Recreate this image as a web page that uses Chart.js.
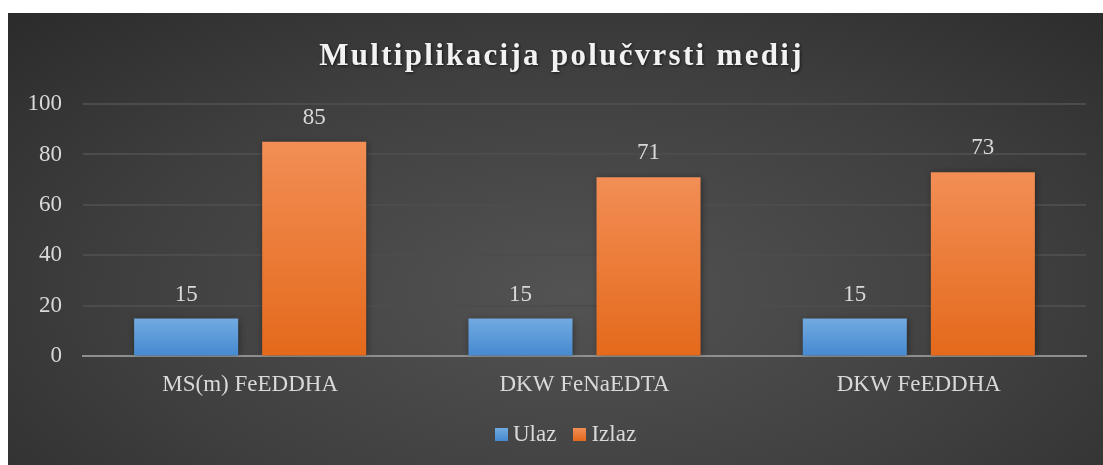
<!DOCTYPE html>
<html lang="hr">
<head>
  <meta charset="UTF-8" />
  <title>Multiplikacija polučvrsti medij</title>
  <script src="https://cdn.jsdelivr.net/npm/chart.js"></script>
  <style>
    * {
      box-sizing: border-box;
      margin: 0;
      padding: 0;
    }

    body {
      background-color: #ffffff;
      width: 1103px;
      height: 465px;
      overflow: hidden;
    }

    .okvir {
      position: absolute;
      left: 8px;
      top: 13px;
      width: 1095px;
      height: 452px;
      background: radial-gradient(ellipse 75% 90% at 52% 62%, #535353 0%, #3f3f3f 55%, #2a2a2a 100%);
    }

    canvas {
      display: block;
    }

    .legenda {
      position: absolute;
      left: 487px;
      top: 406px;
      display: flex;
      align-items: center;
      font-family: 'Liberation Serif', 'Times New Roman', serif;
      font-size: 23px;
      color: #d9d9d9;
      line-height: 30px;
    }

    .legenda span.kvadrat {
      display: inline-block;
      width: 13px;
      height: 13px;
      margin-right: 5px;
    }

    .legenda span.tekst {
      margin-right: 17px;
    }
  </style>
</head>
<body>
  <div class="okvir">
    <canvas id="grafikon" width="1095" height="452"></canvas>
    <div class="legenda" id="legenda"></div>
  </div>

<script>
  const naslov = "Multiplikacija polučvrsti medij";
  const kategorije = ["MS(m) FeEDDHA", "DKW FeNaEDTA", "DKW FeEDDHA"];
  const ulaz = [15, 15, 15];
  const izlaz = [85, 71, 73];
  const yOznake = [0, 20, 40, 60, 80, 100];

  const font = "'Liberation Serif', 'Times New Roman', serif";
  const bojaTeksta = "#d9d9d9";

  function gradijent(context, gore, dolje) {
    const chart = context.chart;
    if (!chart.chartArea || context.parsed === undefined) return gore;
    const y = chart.scales.y;
    const vrh = y.getPixelForValue(context.parsed.y);
    const dno = y.getPixelForValue(0);
    const g = chart.ctx.createLinearGradient(0, vrh, 0, dno);
    g.addColorStop(0, gore);
    g.addColorStop(1, dolje);
    return g;
  }

  const naslovPlugin = {
    id: "naslovPlugin",
    afterDraw(chart) {
      const ctx = chart.ctx;
      ctx.save();
      ctx.font = "bold 31px " + font;
      ctx.letterSpacing = "2.3px";
      ctx.fillStyle = "#f2f2f2";
      ctx.textAlign = "center";
      ctx.textBaseline = "middle";
      ctx.shadowColor = "rgba(0,0,0,0.6)";
      ctx.shadowBlur = 3;
      ctx.shadowOffsetX = 1;
      ctx.shadowOffsetY = 1;
      ctx.fillText(naslov, chart.width / 2 + 6, 44);
      ctx.restore();
    }
  };

  const sjenaPlugin = {
    id: "sjenaPlugin",
    beforeDatasetsDraw(chart) {
      const ctx = chart.ctx;
      ctx.save();
      ctx.shadowColor = "rgba(0,0,0,0.45)";
      ctx.shadowBlur = 7;
      ctx.shadowOffsetX = 1;
      ctx.shadowOffsetY = 1;
    },
    afterDatasetsDraw(chart) {
      chart.ctx.restore();
    }
  };

  const vrijednostiPlugin = {
    id: "vrijednostiPlugin",
    afterDatasetsDraw(chart) {
      const ctx = chart.ctx;
      ctx.save();
      ctx.font = "23px " + font;
      ctx.fillStyle = bojaTeksta;
      ctx.textAlign = "center";
      ctx.textBaseline = "middle";
      chart.data.datasets.forEach((ds, i) => {
        chart.getDatasetMeta(i).data.forEach((bar, j) => {
          ctx.fillText(ds.data[j], bar.x, bar.y - 24);
        });
      });
      ctx.restore();
    }
  };

  const legendaBoje = [
    "linear-gradient(#72aae0, #4589d0)",
    "linear-gradient(#f28e55, #e4691b)"
  ];

  const grafikon = new Chart(document.getElementById("grafikon"), {
    type: "bar",
    data: {
      labels: kategorije,
      datasets: [
        {
          label: "Ulaz",
          data: ulaz,
          backgroundColor: (c) => gradijent(c, "#72aae0", "#4589d0"),
          categoryPercentage: 0.766,
          barPercentage: 0.8125
        },
        {
          label: "Izlaz",
          data: izlaz,
          backgroundColor: (c) => gradijent(c, "#f28e55", "#e4691b"),
          categoryPercentage: 0.766,
          barPercentage: 0.8125
        }
      ]
    },
    options: {
      responsive: false,
      animation: false,
      layout: {
        padding: { top: 91, right: 17, bottom: 51, left: 0 }
      },
      plugins: {
        title: { display: false },
        tooltip: { enabled: false },
        legend: { display: false }
      },
      scales: {
        x: {
          grid: { display: false, drawTicks: false },
          border: { display: true, color: "#8f8f8f", width: 2 },
          ticks: {
            color: bojaTeksta,
            font: { family: font, size: 23 },
            padding: 15
          }
        },
        y: {
          min: 0,
          max: 100,
          afterFit(scale) {
            scale.width = 75;
          },
          afterBuildTicks(scale) {
            scale.ticks = yOznake.map((v) => ({ value: v }));
          },
          grid: { color: "#4c4c4c", lineWidth: 2, drawTicks: false },
          border: { display: false },
          ticks: {
            color: bojaTeksta,
            font: { family: font, size: 23 },
            padding: 21
          }
        }
      }
    },
    plugins: [sjenaPlugin, vrijednostiPlugin, naslovPlugin]
  });

  // legenda kao HTML, zbog razmaka izmedju kvadrata i teksta
  const legenda = document.getElementById("legenda");
  grafikon.data.datasets.forEach((ds, i) => {
    const kvadrat = document.createElement("span");
    kvadrat.className = "kvadrat";
    kvadrat.style.background = legendaBoje[i];
    const tekst = document.createElement("span");
    tekst.className = "tekst";
    tekst.textContent = ds.label;
    legenda.appendChild(kvadrat);
    legenda.appendChild(tekst);
  });
</script>
</body>
</html>
